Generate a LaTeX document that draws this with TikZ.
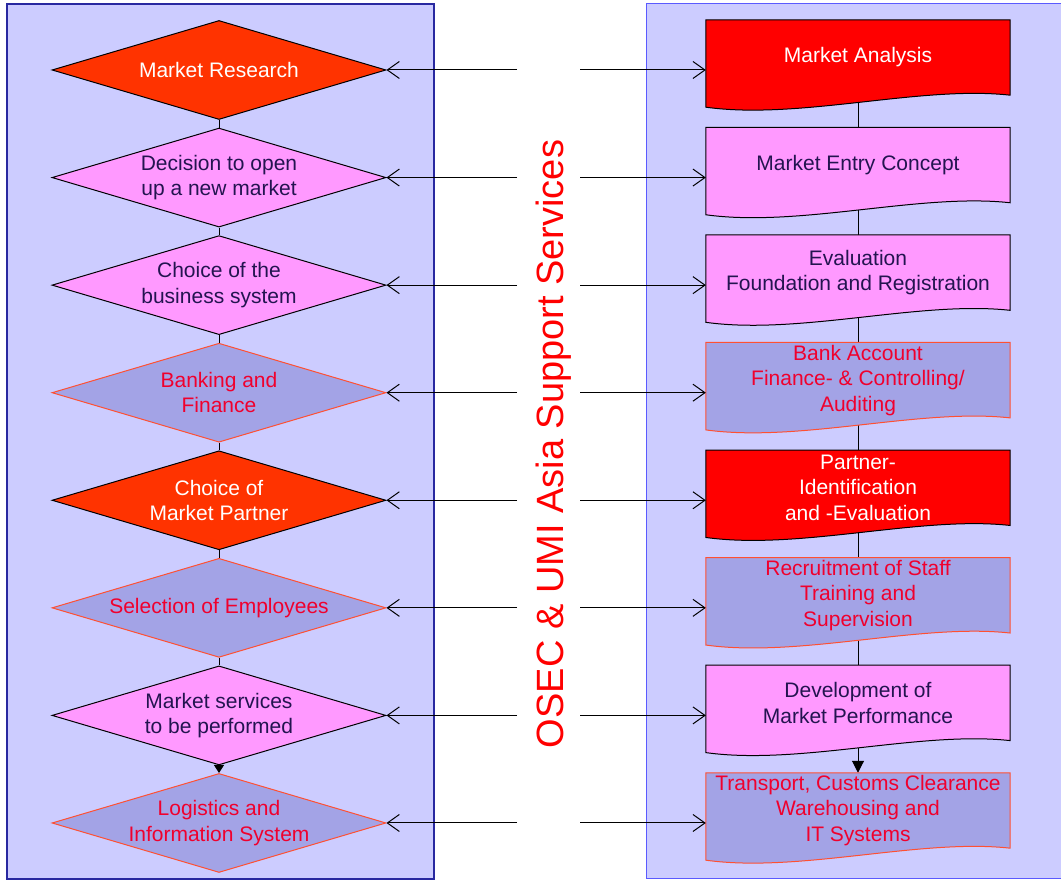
\documentclass[tikz,border=0pt]{standalone}
\usepackage{fontspec}
\setmainfont{Liberation Sans}
\usetikzlibrary{shapes.geometric,arrows.meta,calc}
\definecolor{panelblue}{RGB}{204,204,255}
\definecolor{panelline}{RGB}{40,40,160}
\definecolor{panellinetwo}{RGB}{90,90,255}
\definecolor{hotorange}{RGB}{255,51,0}
\definecolor{hotred}{RGB}{255,0,0}
\definecolor{lightpink}{RGB}{255,153,255}
\definecolor{lilac}{RGB}{163,163,230}
\definecolor{redline}{RGB}{255,80,50}
\definecolor{redtext}{RGB}{240,0,45}
\definecolor{navytext}{RGB}{35,20,80}
\pgfdeclarelayer{panel}
\pgfdeclarelayer{shape}
\pgfsetlayers{panel,shape,main}
\begin{document}
\begin{tikzpicture}[x=1pt,y=1pt,
    every node/.style={font=\fontsize{21}{25.5}\selectfont,align=center},
    dia/.style={diamond,draw,line width=1pt,aspect=3.37,minimum width=334pt,minimum height=99pt,inner sep=-6pt},
    docbox/.style={rectangle,minimum width=304pt,minimum height=75pt,inner sep=0pt},
    link/.style={line width=1pt},
    barb/.style={line width=1pt,-{Straight Barb[length=12pt,width=17pt]}}]
  \useasboundingbox (0,0) rectangle (1061,880);
  \begin{pgfonlayer}{panel}
    \draw[fill=panelblue,draw=panelline,line width=1.2pt] (7,1) rectangle (434,876);
    \draw[fill=panelblue,draw=panellinetwo,line width=1pt] (646,1) rectangle (1070,876);
  \end{pgfonlayer}
  \foreach \k/\fc/\dc/\tc/\txt in {1/hotorange/black/white/Market Research,
      2/lightpink/black/navytext/{Decision to open\\up a new market},
      3/lightpink/black/navytext/{Choice of the\\business system},
      4/lilac/redline/redtext/{Banking and\\Finance},
      5/hotorange/black/white/{Choice of\\Market Partner},
      6/lilac/redline/redtext/Selection of Employees,
      7/lightpink/black/navytext/{Market services\\to be performed},
      8/lilac/redline/redtext/{Logistics and\\Information System}}
    \node[dia,fill=\fc,draw=\dc,text=\tc] (d\k) at (219,{810-107.57*(\k-1)}) {\txt};
  \foreach \k/\fc/\dc/\tc/\txt in {1/hotred/black/white/Market Analysis,
      2/lightpink/black/navytext/Market Entry Concept,
      3/lightpink/black/navytext/{Evaluation\\Foundation and Registration},
      4/lilac/redline/redtext/{Bank Account\\Finance- \& Controlling/\\Auditing},
      5/hotred/black/white/{Partner-\\Identification\\and -Evaluation},
      6/lilac/redline/redtext/{Recruitment of Staff\\Training and\\Supervision},
      7/lightpink/black/navytext/{Development of\\Market Performance},
      8/lilac/redline/redtext/{Transport, Customs Clearance\\Warehousing and\\IT Systems}}{
    \node[docbox,text=\tc] (b\k) at (858,{822.5-107.57*(\k-1)}) {\txt};
    \begin{pgfonlayer}{shape}
      \draw[fill=\fc,draw=\dc,line width=1pt] (b\k.north west) -- (b\k.north east) -- (b\k.south east)
        .. controls +(-90,10) and +(94,-13) .. ($(b\k.south west)+(0,-12)$) -- cycle;
    \end{pgfonlayer}
  }
  \node[rotate=90,anchor=base,text=hotred,font=\fontsize{38}{40}\selectfont] (osec) at (563,436) {OSEC \& UMI Asia Support Services};
  \foreach \k in {1,...,8}{
    \coordinate (la\k) at (517,{810-107.57*(\k-1)});
    \coordinate (ra\k) at (580,{810-107.57*(\k-1)});
    \draw[barb] (la\k) -- (d\k.east);
    \draw[barb] (ra\k) -- (ra\k -| b\k.west);
  }
  \foreach \a/\b in {1/2,2/3,3/4,4/5,5/6,6/7}
    \draw[link] (d\a.south) -- (d\b.north);
  \draw[link,-{Triangle[length=8pt,width=10pt]}] (d7.south) -- (d8.north);
  \begin{pgfonlayer}{panel}
    \foreach \a/\b in {1/2,2/3,3/4,4/5,5/6,6/7}
      \draw[link] (b\a.south) -- (b\b.north);
    \draw[link,-{Triangle[length=12pt,width=12pt]}] (b7.south) -- (b8.north);
  \end{pgfonlayer}
\end{tikzpicture}
\end{document}
